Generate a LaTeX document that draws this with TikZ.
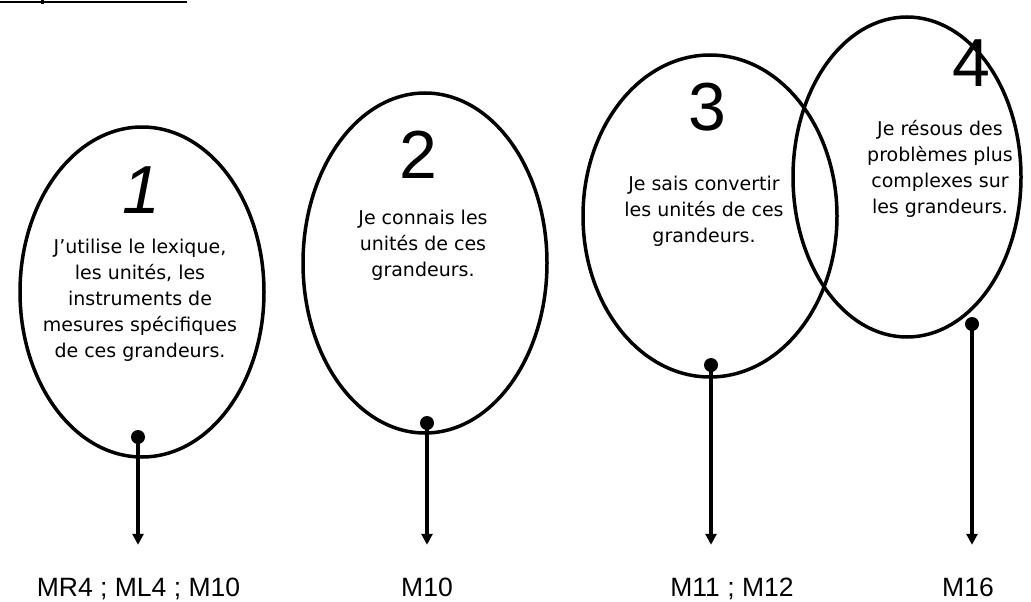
\documentclass[tikz,border=0pt]{standalone}
\usepackage{fontspec}
\setmainfont{DejaVu Sans}
\newfontfamily\labelfont{Liberation Sans}
\usetikzlibrary{arrows.meta,shapes.geometric}
\tikzset{
  bubble/.style={draw=black, line width=3.5pt, ellipse, inner sep=0pt},
  bodytext/.style={align=center, font=\fontsize{19}{26}\selectfont, inner sep=0pt},
  digit/.style={font=\labelfont\fontsize{68}{68}\selectfont, inner sep=0pt},
  codelabel/.style={font=\labelfont\fontsize{26.5}{30}\selectfont, inner sep=0pt, anchor=base},
  pin/.style={line width=3.5pt, -{Triangle[width=11pt,length=11pt]}, shorten >=32.5pt},
  dotmark/.style={fill=black}
}
\begin{document}
\begin{tikzpicture}[x=1pt,y=-1pt]
\useasboundingbox (0,0) rectangle (1031,602);
% cut-off underline at top
\draw[line width=1.7pt] (0,1.7) -- (187,1.7);
\fill (41,0) rectangle (44,4.5);
% bubbles
\node[bubble, minimum width=244pt, minimum height=330pt] (e1) at (142,292) {};
\node[bubble, minimum width=244pt, minimum height=340pt] (e2) at (425,263) {};
\node[bubble, minimum width=254pt, minimum height=322pt] (e3) at (710,216) {};
\node[bubble, minimum width=228pt, minimum height=320pt] (e4) at (907,177) {};
% digits
\node[digit, font=\labelfont\itshape\fontsize{68}{68}\selectfont] (n1) at (141,190) {1};
\node[digit] (n2) at (418,155) {2};
\node[digit] (n3) at (707,107) {3};
\node[digit] (n4) at (971,63) {4};
% texts
\node[bodytext] (t1) at (140,300) {J'utilise le lexique,\\les unités, les\\instruments de\\mesures spécifiques\\de ces grandeurs.};
\node[bodytext] (t2) at (423,245) {Je connais les\\unités de ces\\grandeurs.};
\node[bodytext] (t3) at (704,211) {Je sais convertir\\les unités de ces\\grandeurs.};
\node[bodytext] (t4) at (940,169) {Je résous des\\problèmes plus\\complexes sur\\les grandeurs.};
% dots
\coordinate (d1) at (138,437);
\coordinate (d2) at (427,423);
\coordinate (d3) at (711,365);
\coordinate (d4) at (972,324);
\fill[dotmark] (d1) circle (7);
\fill[dotmark] (d2) circle (7);
\fill[dotmark] (d3) circle (7);
\fill[dotmark] (d4) circle (7);
% labels
\node[codelabel] (l1) at (138.5,596) {MR4 ; ML4 ; M10};
\node[codelabel] (l2) at (427,596) {M10};
\node[codelabel] (l3) at (732,596) {M11 ; M12};
\node[codelabel] (l4) at (968,596) {M16};
% arrows
\draw[pin] (d1) -- (d1 |- l1.north);
\draw[pin] (d2) -- (d2 |- l2.north);
\draw[pin] (d3) -- (d3 |- l3.north);
\draw[pin] (d4) -- (d4 |- l4.north);
\end{tikzpicture}
\end{document}
